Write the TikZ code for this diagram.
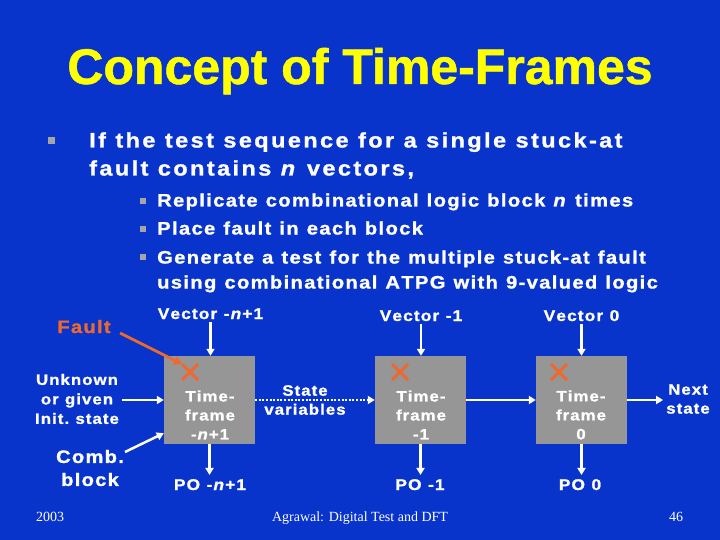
\documentclass[tikz,border=0pt]{standalone}
\usepackage{fontspec}
\setmainfont{Liberation Sans}[BoldFeatures={FakeBold=1.2,FakeStretch=1.12},BoldItalicFeatures={FakeBold=1.2,FakeStretch=1.12}]
\newfontfamily\titlef{Liberation Sans}[BoldFeatures={FakeBold=1}]
\newfontfamily\serf{Liberation Serif}
\makeatletter
\newif\ifls@first
\def\ls@word#1{\ls@firsttrue\@tfor\ls@c:=#1\do{\ifls@first\ls@firstfalse\else\ls@g\fi\ls@c}}
\def\ls@words#1 #2\ls@stop{\ls@word{#1}\if\relax\detokenize{#2}\relax\else\ls@sp\ls@words#2\ls@stop\fi}
\newcommand\lsp[3]{\def\ls@g{\kern#1\relax}\def\ls@sp{\kern#2\relax}\ls@words#3 \ls@stop}
\makeatother
\newcommand\itn{\textit{n}}
\newcommand\lsA[1]{\lsp{.114em}{.45em}{#1}}
\newcommand\lsM[1]{\lsp{.075em}{.45em}{#1}}
\newcommand\lsB[1]{\lsp{.07em}{.42em}{#1}}
\usetikzlibrary{arrows.meta,shapes.misc,calc}
\definecolor{bgblue}{RGB}{8,52,204}
\definecolor{titleyellow}{RGB}{255,255,0}
\definecolor{boxgray}{RGB}{150,150,150}
\definecolor{bulgray}{RGB}{165,165,165}
\definecolor{faultorange}{RGB}{238,105,45}
\tikzset{
  txt/.style={text=white,inner sep=0pt,font=\bfseries\fontsize{15.5}{19}\selectfont},
  box/.style={fill=boxgray,minimum width=91pt,minimum height=88pt,inner sep=0pt},
  wa/.style={white,line width=2.5pt,-{Triangle[length=7pt,width=8pt]}},
  fa/.style={faultorange,line width=2.8pt,-{Triangle[length=8pt,width=9pt]}},
  xmark/.style={cross out,draw=faultorange,line width=3pt,minimum size=13pt,inner sep=0pt},
  bul/.style={fill=bulgray,inner sep=0pt,minimum size=#1},
  line/.style={text=white,inner sep=0pt,anchor=base west},
  bodyA/.style={font=\bfseries\fontsize{21}{25}\selectfont},
  bodyM/.style={font=\bfseries\fontsize{18}{22}\selectfont},
}
\begin{document}
\begin{tikzpicture}[x=1pt,y=-1pt]
\fill[bgblue] (0,0) rectangle (720,540);
\useasboundingbox (0,0) rectangle (720,540);
% title
\node[anchor=base,text=titleyellow,inner sep=0pt,font=\titlef\bfseries\fontsize{50}{56}\selectfont] (title) at (360,84) {Concept of Time-Frames};
% bullets
\node[bul=7pt] (b0) at (51,141) {};
\node[line,bodyA] (l1) at (89,147.5) {\lsA{If the test sequence for a single stuck-at}};
\node[line,bodyA] (l2) at (89,175.5) {\lsA{fault contains \itn{} vectors,}};
\node[bul=6pt] (s1) at (143,201) {};
\node[bul=6pt] (s2) at (143,229) {};
\node[bul=6pt] (s3) at (143,257) {};
\node[line,bodyM] (m1) at (157,206.5) {\lsM{Replicate combinational logic block \itn{} times}};
\node[line,bodyM] (m2) at (157,234.5) {\lsM{Place fault in each block}};
\node[line,bodyM] (m3) at (157,263.5) {\lsM{Generate a test for the multiple stuck-at fault}};
\node[line,bodyM] (m4) at (157,288.5) {\lsM{using combinational ATPG with 9-valued logic}};
% boxes
\node[box] (bx1) at (209.5,400) {};
\node[box] (bx2) at (420.5,400) {};
\node[box] (bx3) at (581.5,400) {};
\node[xmark] (x1) at (190,372) {};
\node[xmark] (x2) at (400,372) {};
\node[xmark] (x3) at (559,372) {};
\node[txt,align=center,font=\bfseries\fontsize{15}{19}\selectfont] (t1) at (210,415) {\lsB{Time-}\\\lsB{frame}\\\lsB{-\itn+1}};
\node[txt,align=center,font=\bfseries\fontsize{15}{19}\selectfont] (t2) at (421,415) {\lsB{Time-}\\\lsB{frame}\\\lsB{-1}};
\node[txt,align=center,font=\bfseries\fontsize{15}{19}\selectfont] (t3) at (581,415) {\lsB{Time-}\\\lsB{frame}\\0};
% vectors
\node[txt,anchor=base,inner sep=3pt] (v1) at (210.5,319) {\lsB{Vector -\itn+1}};
\node[txt,anchor=base,inner sep=3pt] (v2) at (421,321) {\lsB{Vector -1}};
\node[txt,anchor=base,inner sep=3pt] (v3) at (581.5,321) {\lsB{Vector 0}};
% POs
\node[txt,anchor=base,inner sep=4pt] (p1) at (210,490) {\lsB{PO -\itn+1}};
\node[txt,anchor=base,inner sep=4pt] (p2) at (420,490) {\lsB{PO -1}};
\node[txt,anchor=base,inner sep=4pt] (p3) at (580,490) {\lsB{PO 0}};
% side labels
\node[txt,anchor=base,text=faultorange,font=\bfseries\fontsize{18}{22}\selectfont] (fault) at (84,333) {\lsB{Fault}};
\node[txt,align=center,inner sep=3pt,font=\bfseries\fontsize{15}{19.5}\selectfont] (unk) at (77,399) {\lsB{Unknown}\\\lsB{or given}\\\lsB{Init. state}};
\node[txt,align=center,inner sep=3pt,font=\bfseries\fontsize{18}{23}\selectfont] (cb) at (90,468) {\lsB{Comb.}\\\lsB{block}};
\node[txt,align=center,font=\bfseries\fontsize{15}{19}\selectfont] (sv) at (305,400) {\lsB{State}\\\lsB{variables}};
\node[txt,align=center,inner sep=3pt,font=\bfseries\fontsize{15}{19}\selectfont] (ns) at (688,399) {\lsB{Next}\\\lsB{state}};
% connectors
\draw[wa] (v1.south) -- (v1.south |- bx1.north);
\draw[wa] (v2.south) -- (v2.south |- bx2.north);
\draw[wa] (v3.south) -- (v3.south |- bx3.north);
\draw[wa] (bx1.south) -- (bx1.south |- p1.north);
\draw[wa] (bx2.south) -- (bx2.south |- p2.north);
\draw[wa] (bx3.south) -- (bx3.south |- p3.north);
\draw[wa] (unk.east |- bx1.west) -- (bx1.west);
\coordinate (cbs) at (125,452);
\draw[wa] (cbs) -- ($(bx1.south west)+(0,-11)$);
\coordinate (fs) at (120,333);
\draw[fa] (fs) -- (x1.north west);
\draw[white,line width=2.5pt,dash pattern=on 2pt off 1.6pt,-{Triangle[length=7pt,width=8pt]}] (bx1.east) -- (bx2.west);
\draw[wa] (bx2.east) -- (bx3.west);
\draw[wa] (bx3.east) -- (ns.west |- bx3.east);
% footer
\node[text=white,anchor=base,inner sep=0pt,font=\serf\fontsize{14}{16}\selectfont] (yr) at (50,521) {2003};
\node[text=white,anchor=base,inner sep=0pt,font=\serf\fontsize{14}{16}\selectfont] (ft) at (360,521) {Agrawal: Digital Test and DFT};
\node[text=white,anchor=base,inner sep=0pt,font=\serf\fontsize{14}{16}\selectfont] (pg) at (676,521) {46};
\end{tikzpicture}
\end{document}
